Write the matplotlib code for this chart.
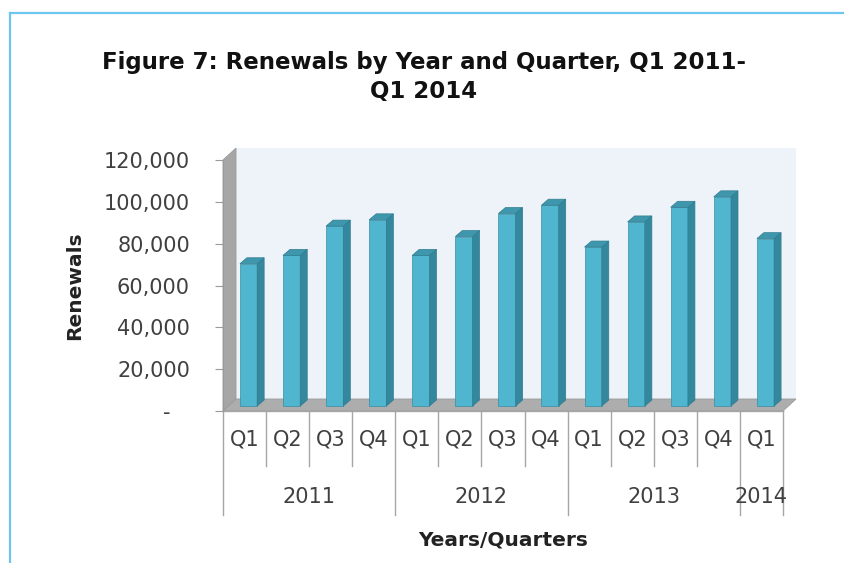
import matplotlib
matplotlib.use("Agg")
import matplotlib.pyplot as plt
import matplotlib.transforms as mtransforms
from matplotlib.patches import Polygon
from matplotlib.lines import Line2D

# ---------------- data ----------------
quarters = ["Q1", "Q2", "Q3", "Q4", "Q1", "Q2", "Q3", "Q4", "Q1", "Q2", "Q3", "Q4", "Q1"]
years = ["2011", "2012", "2013", "2014"]
year_counts = [4, 4, 4, 1]
renewals = [68000, 72000, 86000, 89000, 72000, 81000, 92000, 96000,
            76000, 88000, 95000, 100000, 80000]
y_ticks = [0, 20000, 40000, 60000, 80000, 100000, 120000]
y_tick_labels = ["-   ", "20,000", "40,000", "60,000", "80,000", "100,000", "120,000"]
title = "Figure 7: Renewals by Year and Quarter, Q1 2011-\nQ1 2014"
x_label = "Years/Quarters"
y_label = "Renewals"

# ---------------- layout ----------------
W, H = 845, 563
DPI = 100
fig = plt.figure(figsize=(W / DPI, H / DPI), dpi=DPI)
fig.patch.set_facecolor("white")


def fx(px):
    return px / W


def fy(py):
    return 1 - py / H


AX_L, AX_R, AX_T, AX_B = 223, 783, 160, 411
ax = fig.add_axes([fx(AX_L), fy(AX_B), (AX_R - AX_L) / W, (AX_B - AX_T) / H])
n = len(renewals)
ax.set_xlim(-0.5, n - 0.5)
ax.set_ylim(0, 120000)
ax.patch.set_visible(False)
for s in ["top", "right", "bottom"]:
    ax.spines[s].set_visible(False)
ax.spines["left"].set_color("#9a9a9a")
ax.spines["left"].set_linewidth(0.8)
ax.set_xticks([])
ax.set_yticks(y_ticks, y_tick_labels)
ax.tick_params(axis="y", length=5.8, width=0.8, color="#9a9a9a", pad=18,
               labelsize=15, labelcolor="#404040")

T = ax.transData
ident = mtransforms.IdentityTransform()

# depth offsets in pixels (display y is upward)
WDX, WDY = 13, 12      # back wall depth
BOX, BOY = 4, 5        # bar front-face offset from front plane
BDX, BDY = 7, 6        # bar depth


def disp(x, y):
    return T.transform((x, y))


x0, x1 = -0.5, n - 0.5
p_fb = disp(x0, 0)
p_ft = disp(x0, 120000)
p_rb = disp(x1, 0)
p_rt = disp(x1, 120000)


def add_poly(pts, fc, ec, lw, z):
    p = Polygon(pts, closed=True, transform=ident, facecolor=fc, edgecolor=ec,
                linewidth=lw, zorder=z, clip_on=False)
    ax.add_artist(p)
    return p


# back wall
add_poly([(p_fb[0] + WDX, p_fb[1] + WDY), (p_rb[0] + WDX, p_rb[1] + WDY),
          (p_rt[0] + WDX, p_rt[1] + WDY), (p_ft[0] + WDX, p_ft[1] + WDY)],
         "#EDF3F8", "none", 0, 0.5)
# side wall
add_poly([tuple(p_fb), tuple(p_ft), (p_ft[0] + WDX, p_ft[1] + WDY),
          (p_fb[0] + WDX, p_fb[1] + WDY)], "#A6A6A6", "#9a9a9a", 0.6, 0.6)
# floor
add_poly([tuple(p_fb), tuple(p_rb), (p_rb[0] + WDX, p_rb[1] + WDY),
          (p_fb[0] + WDX, p_fb[1] + WDY)], "#ADADAD", "#9a9a9a", 0.6, 0.7)

# bars (front faces through ax.bar, offset to mid depth)
bw = 0.40
xs = list(range(n))
bar_tr = T + mtransforms.Affine2D().translate(BOX, BOY)
bars = ax.bar(xs, renewals, width=bw, color="#50B6CF", edgecolor="#3A8DA2",
              linewidth=0.5, transform=bar_tr, zorder=3, clip_on=False)
for i, v in enumerate(renewals):
    fl = disp(i - bw / 2, v)
    fr_t = disp(i + bw / 2, v)
    fr_b = disp(i + bw / 2, 0)
    fl = (fl[0] + BOX, fl[1] + BOY)
    fr_t = (fr_t[0] + BOX, fr_t[1] + BOY)
    fr_b = (fr_b[0] + BOX, fr_b[1] + BOY)
    add_poly([fr_b, fr_t, (fr_t[0] + BDX, fr_t[1] + BDY), (fr_b[0] + BDX, fr_b[1] + BDY)],
             "#34889D", "#2E7B8F", 0.5, 3)
    add_poly([fl, fr_t, (fr_t[0] + BDX, fr_t[1] + BDY), (fl[0] + BDX, fl[1] + BDY)],
             "#3E97AD", "#2E7B8F", 0.5, 3)

# ---------------- category axis (two levels) ----------------
blend = mtransforms.blended_transform_factory(T, fig.transFigure)
line_c = "#A6A6A6"
ax.plot([x0, x1], [fy(AX_B), fy(AX_B)], transform=blend, color=line_c, lw=1.0, clip_on=False)
year_bounds = [0]
for c in year_counts:
    year_bounds.append(year_bounds[-1] + c)
for b in range(n + 1):
    xb = b - 0.5
    bottom = 515 if b in year_bounds else 466
    ax.plot([xb, xb], [fy(AX_B), fy(bottom)], transform=blend, color=line_c, lw=1.0,
            clip_on=False)
for i, q in enumerate(quarters):
    ax.text(i, fy(440), q, transform=blend, ha="center", va="center", fontsize=15,
            color="#404040")
for k, yr in enumerate(years):
    cx = (year_bounds[k] + year_bounds[k + 1] - 1) / 2
    ax.text(cx, fy(497), yr, transform=blend, ha="center", va="center", fontsize=15,
            color="#404040")

# ---------------- labels ----------------
fig.text(fx((AX_L + AX_R) / 2), fy(540), x_label, ha="center", va="center",
         fontsize=14.5, fontweight="bold", color="#222222")
fig.text(fx(75), fy((AX_T + AX_B) / 2), y_label, rotation=90, ha="center", va="center",
         fontsize=14.5, fontweight="bold", color="#222222")
fig.text(fx(424), fy(77), title, ha="center", va="center", fontsize=16.5,
         fontweight="bold", color="#111111", linespacing=1.3)

# frame border (top and left light blue lines)
fig.add_artist(Line2D([fx(10), 1.0], [fy(13), fy(13)], transform=fig.transFigure,
                      color="#6CC6EE", lw=1.6))
fig.add_artist(Line2D([fx(10), fx(10)], [fy(13), 0.0], transform=fig.transFigure,
                      color="#6CC6EE", lw=1.6))

fig.savefig("out.png", dpi=DPI)
